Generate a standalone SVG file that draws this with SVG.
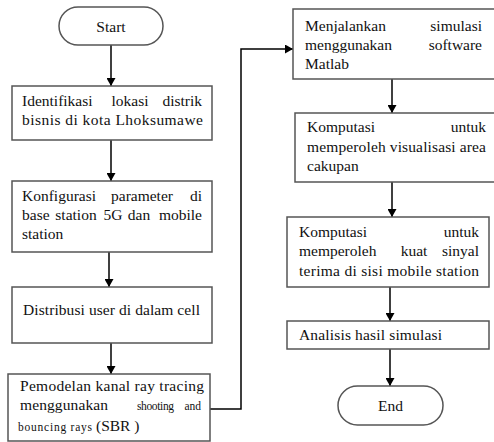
<svg xmlns="http://www.w3.org/2000/svg" width="494" height="442" viewBox="0 0 494 442">
<style>
.b{fill:#fff;stroke:#555;stroke-width:1.5}
.c{fill:none;stroke:#000;stroke-width:1.5}
text{font-family:"Liberation Serif","Times New Roman",serif;font-size:15.5px;fill:#111}
.e{text-anchor:end}
.m{text-anchor:middle}
.s{font-size:11.5px}
</style>
<defs>
<marker id="ah" markerWidth="8" markerHeight="9" refX="8" refY="4.5" orient="auto" markerUnits="userSpaceOnUse">
<path d="M0,0 L8,4.5 L0,9 Z" fill="#000"/>
</marker>
</defs>
<rect width="494" height="442" fill="#fff"/>
<g id="connectors">
<path class="c" d="M111,45 V86" marker-end="url(#ah)"/>
<path class="c" d="M111,140 V181" marker-end="url(#ah)"/>
<path class="c" d="M109,252 V287" marker-end="url(#ah)"/>
<path class="c" d="M111,343 V374" marker-end="url(#ah)"/>
<path class="c" d="M210,409 H241 V49 H293" marker-end="url(#ah)"/>
<path class="c" d="M392,79 V113" marker-end="url(#ah)"/>
<path class="c" d="M392,182 V217" marker-end="url(#ah)"/>
<path class="c" d="M390,287 V321" marker-end="url(#ah)"/>
<path class="c" d="M390,349 V386" marker-end="url(#ah)"/>
</g>
<g id="start">
<rect class="b" x="59" y="7" width="104" height="38" rx="19"/>
<text class="m" x="111" y="31.5">Start</text>
</g>
<g id="identifikasi">
<rect class="b" x="12" y="86" width="200" height="54"/>
<text x="22" y="106">Identifikasi</text>
<text class="m" x="130" y="106">lokasi</text>
<text class="e" x="202" y="106">distrik</text>
<text x="22" y="125" textLength="181">bisnis di kota Lhoksumawe</text>
</g>
<g id="konfigurasi">
<rect class="b" x="12" y="181" width="200" height="71"/>
<text x="22" y="201">Konfigurasi</text>
<text class="m" x="142" y="201">parameter</text>
<text class="e" x="202" y="201">di</text>
<text x="22" y="220">base</text>
<text class="m" x="76" y="220">station</text>
<text class="m" x="113" y="220">5G</text>
<text class="m" x="139" y="220">dan</text>
<text class="e" x="202" y="220">mobile</text>
<text x="22" y="239">station</text>
</g>
<g id="distribusi">
<rect class="b" x="12" y="287" width="200" height="56"/>
<text x="23" y="315" textLength="177">Distribusi user di dalam cell</text>
</g>
<g id="pemodelan">
<rect class="b" x="8" y="374" width="202" height="67"/>
<text x="20" y="391" textLength="184">Pemodelan kanal ray tracing</text>
<text x="20" y="410" textLength="88">menggunakan</text>
<text x="137" y="410" class="s" textLength="37">shooting</text>
<text class="e s" x="201" y="410">and</text>
<text x="18" y="431" class="s" textLength="74">bouncing rays</text>
<text x="96" y="431">(SBR )</text>
</g>
<g id="menjalankan">
<rect class="b" x="293" y="9" width="210" height="70"/>
<text x="305" y="31">Menjalankan</text>
<text class="e" x="482" y="31">simulasi</text>
<text x="305" y="50">menggunakan</text>
<text class="e" x="482" y="50">software</text>
<text x="305" y="69">Matlab</text>
</g>
<g id="visualisasi">
<rect class="b" x="295" y="113" width="210" height="69"/>
<text x="307" y="132">Komputasi</text>
<text class="e" x="486" y="132">untuk</text>
<text x="307" y="152" textLength="179">memperoleh visualisasi area</text>
<text x="307" y="171">cakupan</text>
</g>
<g id="kuat-sinyal">
<rect class="b" x="287" y="217" width="202" height="70"/>
<text x="299" y="237">Komputasi</text>
<text class="e" x="479" y="237">untuk</text>
<text x="299" y="256">memperoleh</text>
<text class="m" x="414" y="256">kuat</text>
<text class="e" x="479" y="256">sinyal</text>
<text x="299" y="276" textLength="180">terima di sisi mobile station</text>
</g>
<g id="analisis">
<rect class="b" x="287" y="321" width="202" height="28"/>
<text x="299" y="340" textLength="143">Analisis hasil simulasi</text>
</g>
<g id="end">
<rect class="b" x="338" y="386" width="105" height="39" rx="19.5"/>
<text class="m" x="390.5" y="411">End</text>
</g>
</svg>
